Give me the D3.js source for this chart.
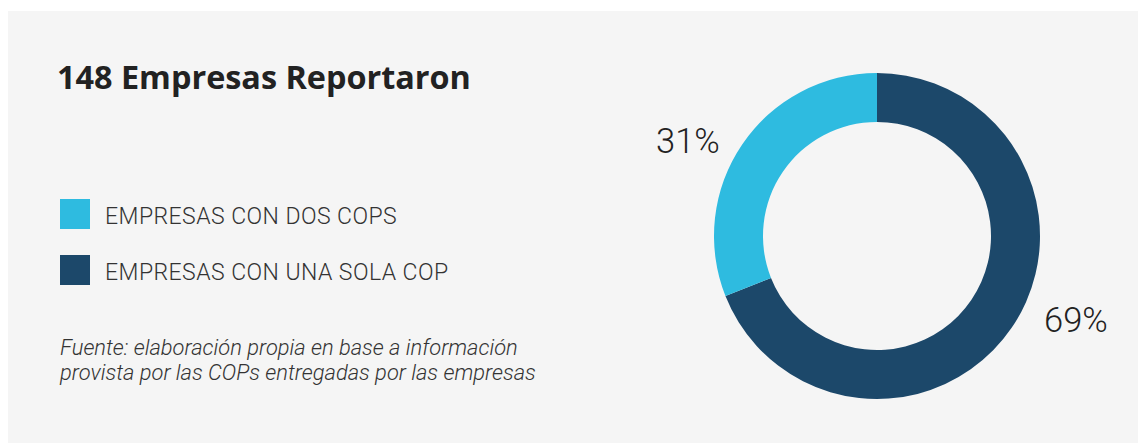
<!DOCTYPE html>
<html>
<head>
<meta charset="utf-8">
<script src="https://cdn.jsdelivr.net/npm/d3@7"></script>
<style>
  html, body { margin: 0; padding: 0; background: #ffffff; }
  svg { display: block; }
</style>
</head>
<body>
<div id="chart"></div>
<script>
// ---- Data ----
const title = "148 Empresas Reportaron";
const categories = ["EMPRESAS CON UNA SOLA COP", "EMPRESAS CON DOS COPS"];
const values = [69, 31];
const valueLabels = ["69%", "31%"];
const legendOrder = ["EMPRESAS CON DOS COPS", "EMPRESAS CON UNA SOLA COP"];
const sourceLines = [
  "Fuente: elaboración propia en base a información",
  "provista por las COPs entregadas por las empresas"
];
const colors = { "EMPRESAS CON UNA SOLA COP": "#1c486a", "EMPRESAS CON DOS COPS": "#2ebbe0" };

// ---- Layout ----
const W = 1139, H = 443;
const svg = d3.select("#chart").append("svg").attr("width", W).attr("height", H);

svg.append("rect").attr("x", 8).attr("y", 11).attr("width", 1130).attr("height", 432)
  .attr("fill", "#f5f5f5");

svg.append("text").attr("x", 57).attr("y", 89)
  .attr("font-family", "'Open Sans', sans-serif").attr("font-weight", 700)
  .attr("font-size", 32.4).attr("fill", "#222222").text(title);

// Legend
const legend = svg.append("g");
const ly = d3.scaleBand().domain(legendOrder).range([199, 311]).paddingInner(0);
legendOrder.forEach((c, i) => {
  const y = ly(c);
  legend.append("rect").attr("x", 60).attr("y", y).attr("width", 30).attr("height", 30)
    .attr("fill", colors[c]);
  legend.append("text").attr("x", 105).attr("y", y + 25)
    .attr("font-family", "Roboto, sans-serif").attr("font-weight", 300)
    .attr("font-size", 23).attr("letter-spacing", 0.45).attr("fill", "#333333").text(c);
});

// Source
sourceLines.forEach((t, i) => {
  svg.append("text").attr("x", 60).attr("y", 355 + i * 25)
    .attr("font-family", "Roboto, sans-serif").attr("font-weight", 300)
    .attr("font-style", "italic").attr("font-size", 21.9).attr("fill", "#333333").text(t);
});

// Donut
const cx = 877, cy = 236, rOuter = 163, rInner = 114;
const pie = d3.pie().sort(null).value(d => d.value);
const arcs = pie(categories.map((c, i) => ({ cat: c, value: values[i], label: valueLabels[i] })));
const arc = d3.arc().innerRadius(rInner).outerRadius(rOuter);
const g = svg.append("g").attr("transform", `translate(${cx},${cy})`);
g.selectAll("path").data(arcs).join("path")
  .attr("d", arc).attr("fill", d => colors[d.data.cat]);

// Labels
const labelPos = { "EMPRESAS CON UNA SOLA COP": [1044, 332], "EMPRESAS CON DOS COPS": [656, 153] };
arcs.forEach(d => {
  const p = labelPos[d.data.cat];
  svg.append("text").attr("x", p[0]).attr("y", p[1])
    .attr("font-family", "Roboto, sans-serif").attr("font-weight", 300)
    .attr("font-size", 34.5).attr("fill", "#222222").text(d.data.label);
});
</script>
</body>
</html>
